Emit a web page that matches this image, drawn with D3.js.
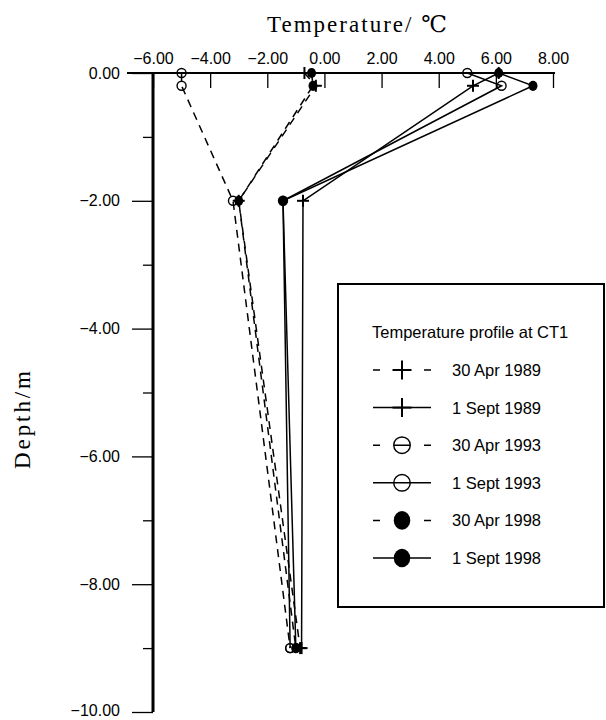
<!DOCTYPE html>
<html><head><meta charset="utf-8">
<script src="https://cdn.jsdelivr.net/npm/d3@7"></script>
<style>
body{margin:0;background:#fff;}
svg{display:block;}
.sans{font-family:"Liberation Sans",Arial,sans-serif;}
.serif{font-family:"Liberation Serif","DejaVu Serif",serif;}
</style></head>
<body>
<svg id="c" width="606" height="720"></svg>
<script>
// ---- data ----
const depths = [0, -0.2, -2, -9];
const seriesNames = ["30 Apr 1989", "1 Sept 1989", "30 Apr 1993", "1 Sept 1993", "30 Apr 1998", "1 Sept 1998"];
const apr1989 = [-0.7, -0.3, -3.0, -0.85];
const sep1989 = [6.1, 5.2, -0.75, -0.8];
const apr1993 = [-5.0, -5.0, -3.2, -1.2];
const sep1993 = [5.0, 6.2, -1.45, -1.2];
const apr1998 = [-0.45, -0.4, -3.0, -1.0];
const sep1998 = [6.1, 7.3, -1.45, -1.0];
const xTicks = [-6, -4, -2, 0, 2, 4, 6, 8];
const yTicks = [0, -2, -4, -6, -8, -10];
const yMinorTicks = [-1, -3, -5, -7, -9];
const xTitle = "Temperature/ ℃";
const yTitle = "Depth/m";
const legendTitle = "Temperature profile at CT1";

const seriesValues = [apr1989, sep1989, apr1993, sep1993, apr1998, sep1998];
const seriesMarker = ["plus", "plus", "open", "open", "filled", "filled"];
const seriesDashed = [true, false, true, false, true, false];

const svg = d3.select("#c");
const x = d3.scaleLinear().domain([-6, 8]).range([153, 553]);
const y = d3.scaleLinear().domain([0, -10]).range([73, 712]);

// ---- axes ----
const xAxis = d3.axisTop(x).tickValues(xTicks).tickSizeInner(-15).tickSizeOuter(0)
  .tickPadding(9).tickFormat(d3.format(".2f"));
const gx = svg.append("g").attr("transform", `translate(0,${y(0)})`).call(xAxis);
gx.select(".domain").remove();
gx.selectAll(".tick line").attr("stroke", "#000").attr("stroke-width", 1.3);
gx.selectAll(".tick text").attr("class", "sans").attr("font-size", 16).attr("fill", "#000");
svg.append("line").attr("x1", 127).attr("x2", x(8) + 2).attr("y1", y(0)).attr("y2", y(0))
  .attr("stroke", "#000").attr("stroke-width", 2.2);

const yAxis = d3.axisLeft(y).tickValues(yTicks).tickSizeInner(21).tickSizeOuter(0)
  .tickPadding(12).tickFormat(d3.format(".2f"));
const gy = svg.append("g").attr("transform", `translate(${x(-6)},0)`).call(yAxis);
gy.select(".domain").remove();
gy.selectAll(".tick line").attr("stroke", "#000").attr("stroke-width", 1.3);
gy.selectAll(".tick text").attr("class", "sans").attr("font-size", 16).attr("fill", "#000")
  .attr("dy", d => d === -10 ? "0.2em" : "0.32em");
const gym = svg.append("g").attr("transform", `translate(${x(-6)},0)`)
  .call(d3.axisLeft(y).tickValues(yMinorTicks).tickSizeInner(10).tickSizeOuter(0).tickFormat(""));
gym.select(".domain").remove();
gym.selectAll(".tick line").attr("stroke", "#000").attr("stroke-width", 1.3);
svg.append("line").attr("x1", x(-6)).attr("x2", x(-6)).attr("y1", y(0)).attr("y2", y(-10))
  .attr("stroke", "#000").attr("stroke-width", 3);

// titles
svg.append("text").attr("class", "serif").attr("x", 357).attr("y", 32)
  .attr("text-anchor", "middle").attr("font-size", 23).attr("textLength", 180)
  .attr("lengthAdjust", "spacing").text(xTitle);
svg.append("text").attr("class", "serif").attr("transform", "translate(30,420) rotate(-90)")
  .attr("text-anchor", "middle").attr("font-size", 23).attr("textLength", 98)
  .attr("lengthAdjust", "spacing").text(yTitle);

// ---- series ----
const line = d3.line().x(d => x(d[0])).y(d => y(d[1]));
function drawMarker(g, type, cx, cy, s) {
  if (type === "plus") {
    g.append("line").attr("x1", cx - s).attr("x2", cx + s).attr("y1", cy).attr("y2", cy)
      .attr("stroke", "#000").attr("stroke-width", 2);
    g.append("line").attr("x1", cx).attr("x2", cx).attr("y1", cy - s).attr("y2", cy + s)
      .attr("stroke", "#000").attr("stroke-width", 2);
  } else if (type === "open") {
    g.append("circle").attr("cx", cx).attr("cy", cy).attr("r", s * 0.75)
      .attr("fill", "none").attr("stroke", "#000").attr("stroke-width", 1.4);
  } else {
    g.append("ellipse").attr("cx", cx).attr("cy", cy).attr("rx", s * 0.75).attr("ry", s * 0.85)
      .attr("fill", "#000");
  }
}
seriesValues.forEach((vals, i) => {
  const pts = vals.map((v, j) => [v, depths[j]]);
  svg.append("path").datum(pts).attr("d", line).attr("fill", "none")
    .attr("stroke", "#000").attr("stroke-width", 1.5)
    .attr("stroke-dasharray", seriesDashed[i] ? "8,6" : null);
  const g = svg.append("g");
  pts.forEach(p => drawMarker(g, seriesMarker[i], x(p[0]), y(p[1]), 6));
});

// ---- legend ----
const lg = svg.append("g");
lg.append("rect").attr("x", 338).attr("y", 284).attr("width", 266).attr("height", 323)
  .attr("fill", "#fff").attr("stroke", "#000").attr("stroke-width", 2);
lg.append("text").attr("class", "sans").attr("x", 372).attr("y", 338).attr("font-size", 16.5)
  .text(legendTitle);
seriesNames.forEach((name, i) => {
  const cy = 370 + i * 37.6;
  lg.append("line").attr("x1", 373).attr("x2", 431).attr("y1", cy).attr("y2", cy)
    .attr("stroke", "#000").attr("stroke-width", 1.5)
    .attr("stroke-dasharray", seriesDashed[i] ? "7,14,16,14,7" : null);
  drawMarker(lg, seriesMarker[i], 402, cy, seriesMarker[i] === "plus" ? 9.5 : 11);
  lg.append("text").attr("class", "sans").attr("x", 452).attr("y", cy + 6)
    .attr("font-size", 16.5).text(name);
});
</script>
</body></html>
